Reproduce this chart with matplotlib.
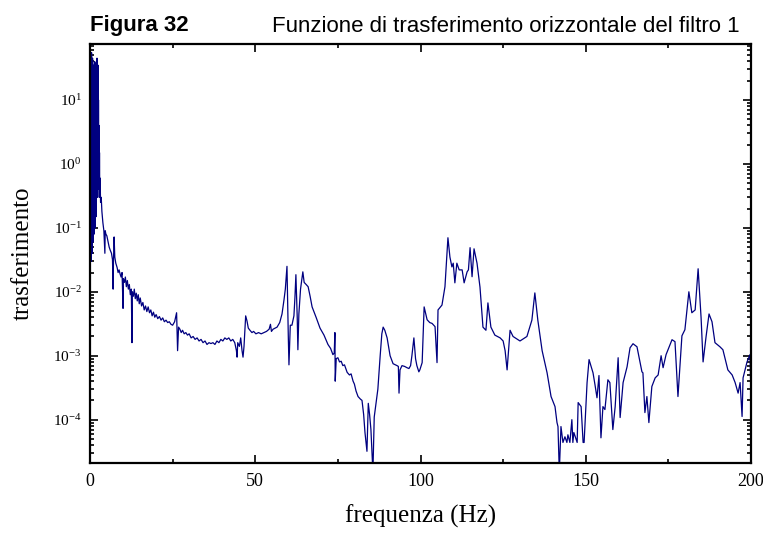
import matplotlib
matplotlib.use("Agg")
import matplotlib.pyplot as plt
from matplotlib.ticker import MultipleLocator, LogLocator, NullFormatter

# Punti (frequenza Hz, trasferimento), divisi per bande
banda_0_5 = [
    (0.10, 0.02), (0.17, 8), (0.25, 0.05), (0.32, 40), (0.40, 0.03), (0.47, 55),
    (0.55, 0.1), (0.62, 30), (0.70, 0.04), (0.77, 45), (0.85, 0.2), (0.92, 20),
    (1.00, 0.06), (1.07, 35), (1.15, 0.3), (1.22, 25), (1.30, 0.08), (1.37, 40),
    (1.45, 0.5), (1.52, 15), (1.60, 0.1), (1.67, 30), (1.75, 0.6), (1.82, 38),
    (1.90, 0.15), (1.97, 40), (2.05, 0.8), (2.12, 45), (2.20, 0.3), (2.27, 20),
    (2.35, 1.2), (2.42, 35), (2.50, 0.4), (2.57, 10), (2.65, 0.6), (2.72, 4),
    (2.80, 0.3), (2.87, 1.5), (2.95, 0.35), (3.05, 0.6), (3.2, 0.25), (3.4, 0.3),
    (3.6, 0.18), (3.9, 0.12), (4.2, 0.09), (4.5, 0.04), (4.6, 0.09), (4.8, 0.08),
]
banda_5_50 = [
    (5.1, 0.075), (5.5, 0.06), (5.8, 0.05), (6.1, 0.045), (6.5, 0.04), (6.8, 0.032),
    (7.0, 0.011), (7.1, 0.03), (7.3, 0.072), (7.5, 0.035), (7.8, 0.028), (8.2, 0.024),
    (8.5, 0.02), (8.8, 0.022), (9.1, 0.019), (9.4, 0.017), (9.7, 0.02), (10.0, 0.0055),
    (10.1, 0.016), (10.4, 0.014), (10.7, 0.017), (11.0, 0.012), (11.3, 0.015), (11.6, 0.011),
    (11.9, 0.013), (12.2, 0.009), (12.5, 0.011), (12.7, 0.0016), (12.8, 0.01), (13.1, 0.0085),
    (13.4, 0.011), (13.7, 0.0078), (14.0, 0.0095), (14.3, 0.0072), (14.6, 0.009), (14.9, 0.0065),
    (15.2, 0.008), (15.6, 0.006), (16.0, 0.0068), (16.4, 0.0052), (16.8, 0.006), (17.2, 0.0049),
    (17.6, 0.0058), (18.0, 0.0047), (18.4, 0.0052), (18.8, 0.0042), (19.2, 0.0048), (19.6, 0.004),
    (20.0, 0.0044), (20.5, 0.0038), (21.0, 0.0041), (21.5, 0.0036), (22.0, 0.0039), (22.5, 0.0034),
    (23.0, 0.0036), (23.5, 0.0033), (24.0, 0.0034), (24.5, 0.0031), (25.0, 0.003), (25.6, 0.0034),
    (26.2, 0.0047), (26.5, 0.0012), (26.8, 0.0028), (27.2, 0.0026), (27.6, 0.0023), (28.0, 0.0025),
    (28.5, 0.0022), (29.0, 0.0023), (29.5, 0.0021), (30.0, 0.0022), (30.6, 0.0019), (31.2, 0.002),
    (31.8, 0.0018), (32.4, 0.0019), (33.0, 0.0017), (33.6, 0.0018), (34.2, 0.0016), (34.8, 0.0017),
    (35.4, 0.0015), (36.0, 0.0016), (36.6, 0.00155), (37.2, 0.0016), (37.8, 0.0015), (38.4, 0.0017),
    (39.0, 0.0016), (39.6, 0.0018), (40.2, 0.0017), (40.8, 0.0019), (41.4, 0.0018), (42.0, 0.0019),
    (42.6, 0.0017), (43.2, 0.0018), (43.8, 0.0016), (44.3, 0.0012), (44.5, 0.00095), (44.7, 0.0016),
    (45.2, 0.0014), (45.6, 0.0019), (46.0, 0.0012), (46.3, 0.00095), (46.6, 0.0014), (47.1, 0.0042),
    (47.5, 0.0035), (47.9, 0.0027), (48.4, 0.0025), (49.0, 0.0023), (49.5, 0.0024),
]
banda_50_100 = [
    (50.2, 0.0022), (51.0, 0.0023), (51.8, 0.0022), (52.6, 0.0023), (53.4, 0.0024), (54.2, 0.0026),
    (54.6, 0.0031), (54.9, 0.0024), (55.4, 0.0026), (56.0, 0.0027), (56.6, 0.0028), (57.4, 0.0033),
    (58.1, 0.0045), (58.7, 0.0075), (59.1, 0.011), (59.6, 0.025), (60.0, 0.002), (60.2, 0.00072),
    (60.6, 0.003), (61.1, 0.003), (61.7, 0.0042), (62.0, 0.008), (62.3, 0.0185), (62.7, 0.004),
    (62.9, 0.00124), (63.2, 0.0045), (63.7, 0.011), (64.4, 0.0205), (64.8, 0.014), (65.4, 0.013),
    (66.0, 0.012), (66.6, 0.0085), (67.2, 0.0058), (68.4, 0.004), (69.6, 0.0027), (70.8, 0.0021),
    (72.0, 0.0015), (72.8, 0.0013), (73.5, 0.00104), (73.9, 0.0011), (74.1, 0.0023), (74.2, 0.0004),
    (74.5, 0.0009), (75.0, 0.00093), (75.5, 0.0008), (76.0, 0.00082), (76.5, 0.0007), (77.0, 0.00072),
    (77.8, 0.00055), (78.5, 0.0005), (79.0, 0.00052), (79.6, 0.0004), (80.0, 0.00036), (80.5, 0.00028),
    (81.1, 0.00023), (81.8, 0.00021), (82.3, 0.0002), (82.8, 0.00012), (83.2, 6.3e-5), (83.8, 3.2e-5),
    (84.2, 1.8e-4), (84.6, 1.2e-4), (85.0, 7e-5), (85.6, 1.5e-5), (86.0, 1.1e-4), (86.4, 1.6e-4),
    (87.1, 3e-4), (87.8, 1e-3), (88.3, 2.2e-3), (88.7, 2.8e-3), (89.2, 2.5e-3), (89.9, 1.9e-3),
    (90.8, 1.0e-3), (91.7, 7.5e-4), (92.9, 7e-4), (93.3, 6.8e-4), (93.5, 2.6e-4), (93.8, 6e-4),
    (94.4, 7e-4), (95.2, 6.8e-4), (95.9, 6.5e-4), (96.5, 6.3e-4), (97.0, 7e-4), (97.4, 1.0e-3),
    (98.0, 1.9e-3), (98.5, 9e-4), (98.9, 7e-4), (99.5, 5.6e-4),
]
banda_100_150 = [
    (99.8, 6e-4), (100.5, 7.8e-4), (101.1, 5.8e-3), (102.0, 3.65e-3), (102.8, 3.3e-3), (103.5, 3.2e-3),
    (104.4, 2.85e-3), (105.0, 7.8e-4), (105.3, 5.2e-3), (106.5, 6.2e-3), (107.4, 0.012), (108.3, 0.07),
    (108.9, 0.035), (109.5, 0.0245), (109.9, 0.028), (110.4, 0.0138), (111.0, 0.028), (111.7, 0.022),
    (112.6, 0.022), (113.2, 0.0138), (114.1, 0.0205), (114.5, 0.022), (115.0, 0.049), (115.6, 0.0172),
    (116.2, 0.047), (117.1, 0.028), (118.0, 0.0118), (118.9, 0.0028), (119.8, 0.0025), (120.4, 0.0067),
    (121.3, 0.0028), (122.5, 0.0021), (124.1, 0.0019), (125.0, 0.0017), (125.6, 0.0012), (126.2, 6e-4),
    (127.1, 0.0025), (128.0, 0.002), (130.1, 0.0017), (132.2, 0.002), (133.7, 0.0036), (134.6, 0.0096),
    (135.5, 0.0036), (136.8, 0.0012), (138.3, 5.4e-4), (139.5, 2.3e-4), (140.7, 1.6e-4), (141.3, 9e-5),
    (141.6, 7.8e-5), (142.0, 1.5e-5), (142.5, 7.8e-5), (143.1, 4.4e-5), (143.7, 5.4e-5), (144.3, 4.4e-5),
    (144.6, 5.8e-5), (145.2, 4.4e-5), (145.8, 1e-4), (146.1, 4.4e-5), (146.4, 6.3e-5), (147.4, 4.4e-5),
    (147.7, 1.85e-4), (148.6, 1.6e-4), (149.2, 4.4e-5), (149.5, 4.4e-5),
]
banda_150_200 = [
    (150.4, 3.8e-4), (151.0, 8.7e-4), (152.2, 5.4e-4), (152.8, 3.5e-4), (153.4, 2.2e-4), (154.0, 4.9e-4),
    (154.6, 5.2e-5), (155.2, 1.6e-4), (155.8, 1.44e-4), (156.7, 4.2e-4), (157.3, 3.8e-4), (158.2, 7e-5),
    (158.9, 1.6e-4), (159.8, 9.3e-4), (160.4, 1.08e-4), (161.3, 3.8e-4), (162.5, 6.7e-4), (163.4, 1.33e-3),
    (164.3, 1.54e-3), (165.5, 1.38e-3), (167.0, 5.6e-4), (167.3, 5.4e-4), (167.9, 1.29e-4), (168.5, 2.3e-4),
    (169.1, 9e-5), (170.0, 3.3e-4), (171.0, 4.5e-4), (171.9, 5e-4), (172.8, 1e-3), (173.4, 6.5e-4),
    (174.3, 1.04e-3), (174.9, 1.24e-3), (176.1, 1.78e-3), (177.0, 1.66e-3), (177.9, 2.3e-4), (179.1, 2.05e-3),
    (180.0, 2.55e-3), (181.2, 0.01), (182.1, 4.7e-3), (183.1, 5.2e-3), (184.0, 0.0229), (184.9, 3.9e-3),
    (185.5, 8e-4), (186.4, 1.98e-3), (187.3, 4.5e-3), (188.2, 3.4e-3), (189.1, 1.6e-3), (190.6, 1.38e-3),
    (191.5, 1.24e-3), (193.0, 6e-4), (194.3, 5e-4), (195.2, 3.8e-4), (196.1, 2.6e-4), (196.7, 3.8e-4),
    (197.3, 1.12e-4), (197.6, 4.5e-4), (198.8, 8e-4), (199.7, 1.04e-3), (200.0, 2.3e-4),
]

punti = banda_0_5 + banda_5_50 + banda_50_100 + banda_100_150 + banda_150_200
freq = [p[0] for p in punti]
trasf = [p[1] for p in punti]

plt.rcParams["font.family"] = "Liberation Serif"
plt.rcParams["mathtext.fontset"] = "custom"
plt.rcParams["mathtext.rm"] = "Liberation Serif"
plt.rcParams["mathtext.it"] = "Liberation Serif:italic"

fig = plt.figure(figsize=(7.63, 5.35), dpi=100)
ax = fig.add_axes([90 / 763, 72 / 535, 661 / 763, 419 / 535])

ax.plot(freq, trasf, color="#000080", linewidth=0.9)

ax.set_yscale("log")
ax.set_xlim(0, 200)
ax.set_ylim(2.1e-5, 75)

ax.xaxis.set_major_locator(MultipleLocator(50))
ax.xaxis.set_minor_locator(MultipleLocator(25))
ax.yaxis.set_major_locator(LogLocator(base=10, numticks=20))
ax.yaxis.set_minor_locator(LogLocator(base=10, subs=range(2, 10), numticks=20))
ax.yaxis.set_minor_formatter(NullFormatter())

for s in ax.spines.values():
    s.set_linewidth(1.6)
ax.tick_params(which="both", direction="in", top=True, right=True, width=1.2)
ax.tick_params(which="major", length=6)
ax.tick_params(which="minor", length=3)
ax.tick_params(axis="x", labelsize=13, pad=7)
ax.tick_params(axis="y", labelsize=11, pad=6)

ax.set_xlabel("frequenza (Hz)", fontsize=18)
ax.set_ylabel("trasferimento", fontsize=18)
ax.xaxis.set_label_coords(0.5, -0.1)
ax.yaxis.set_label_coords(-0.085, 0.5)

# Titolo in stile relazione tecnica
fig.text(90 / 763, 1 - 26 / 535, "Figura 32", fontsize=16, fontweight="bold",
         family="Liberation Sans", va="center", ha="left")
fig.text(740 / 763, 1 - 26 / 535, "Funzione di trasferimento orizzontale del filtro 1",
         fontsize=16, family="Liberation Sans", va="center", ha="right")

fig.savefig("out.png", dpi=100)
